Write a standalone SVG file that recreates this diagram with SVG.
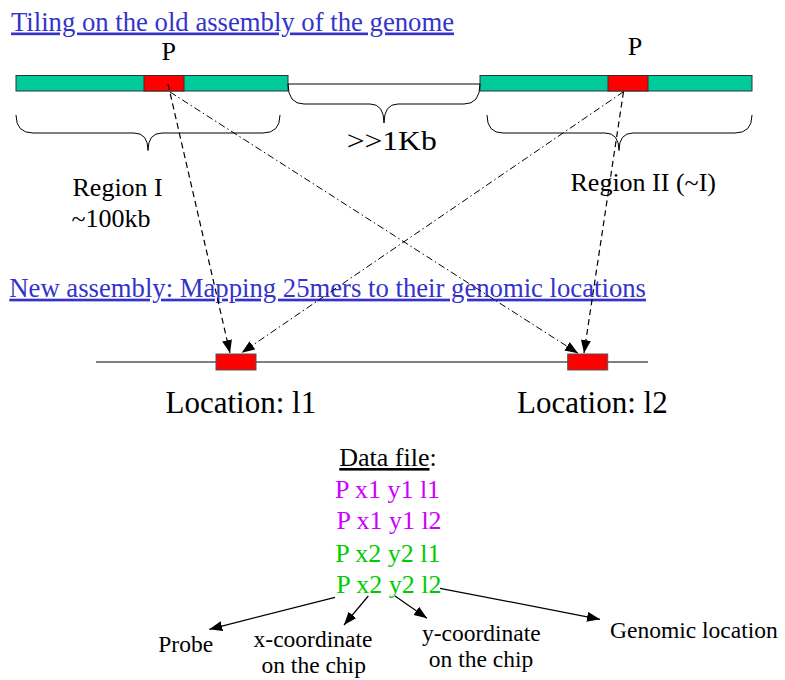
<svg xmlns="http://www.w3.org/2000/svg" width="785" height="680" viewBox="0 0 785 680">
<style>
text{font-family:"Liberation Serif","Times New Roman",serif;fill:#000}
.link{fill:#3333cc;font-size:26.7px;text-decoration:underline}
.bar{fill:#00cc99;stroke:#333;stroke-width:1}
.probe{fill:#ff0000;stroke:#333;stroke-width:1}
.loc{fill:#ff0000;stroke:#555;stroke-width:1}
.brace{fill:none;stroke:#000;stroke-width:1}
.dash{fill:none;stroke:#000;stroke-width:1.2;stroke-dasharray:6,4}
.dashdot{fill:none;stroke:#000;stroke-width:1;stroke-dasharray:7,3,1.5,3}
.solid{fill:none;stroke:#000;stroke-width:1.2}
.lbl{font-size:26px}
.small{font-size:23.5px}
.mag{fill:#cc00ff;font-size:26px}
.grn{fill:#00cc00;font-size:26px}
</style>
<defs>
<marker id="ah" markerUnits="userSpaceOnUse" markerWidth="14" markerHeight="12" refX="13" refY="5" orient="auto">
<path d="M0,0 L13,5 L0,10 z" fill="#000"/>
</marker>
</defs>

<g id="title-old">
<text class="link" x="11" y="30.5">Tiling on the old assembly of the genome</text>
</g>

<g id="region1">
<rect class="bar" x="16" y="75.5" width="272" height="15.5"/>
<rect class="probe" x="144" y="75.5" width="40" height="15.5"/>
<text class="lbl" x="168.7" y="59.5" text-anchor="middle" font-size="25">P</text>
<path class="brace" d="M16,115 Q16,133 33,133 H134 Q148,133 148,150.5 Q148,133 162,133 H263 Q280,133 280,115"/>
<text class="lbl" x="72.5" y="196">Region I</text>
<text class="lbl" x="71.5" y="226.5">~100kb</text>
</g>

<g id="region2">
<rect class="bar" x="480" y="75.5" width="272" height="15.5"/>
<rect class="probe" x="608" y="75.5" width="40" height="15.5"/>
<text class="lbl" x="635" y="55" text-anchor="middle" font-size="25">P</text>
<path class="brace" d="M487,115 Q487,133 503,133 H605 Q619,133 619,150.5 Q619,133 633,133 H735 Q752,133 752,115"/>
<text class="lbl" x="570.5" y="190.7">Region II (~I)</text>
</g>

<g id="gap">
<line class="brace" x1="288" y1="84" x2="480" y2="84"/>
<path class="brace" d="M288,84 Q288,104 304,104 H370 Q384,104 384,123 Q384,104 398,104 H464 Q480,104 480,84"/>
<text x="346.7" y="150" font-size="28" textLength="90" lengthAdjust="spacingAndGlyphs">&gt;&gt;1Kb</text>
</g>

<g id="title-new">
<text class="link" x="9.3" y="296.7">New assembly: Mapping 25mers to their genomic locations</text>
</g>

<g id="new-assembly">
<line x1="96" y1="362" x2="648" y2="362" stroke="#808080" stroke-width="2"/>
</g>
<g id="location1">
<rect class="loc" x="216" y="354" width="40" height="16"/>
<text x="165.5" y="413.3" font-size="31">Location: l1</text>
</g>
<g id="location2">
<rect class="loc" x="567.7" y="354" width="40" height="16"/>
<text x="517" y="413.3" font-size="31">Location: l2</text>
</g>

<g id="connectors">
<line class="dash" x1="168" y1="84" x2="230" y2="353" marker-end="url(#ah)"/>
<line class="dashdot" x1="170" y1="92" x2="578" y2="353.3" marker-end="url(#ah)"/>
<line class="dashdot" x1="623.5" y1="91.7" x2="241.7" y2="352.7" marker-end="url(#ah)"/>
<line class="dash" x1="623.5" y1="91.7" x2="584" y2="353" marker-end="url(#ah)"/>
<line class="solid" x1="335" y1="597.3" x2="209.3" y2="629.3" marker-end="url(#ah)"/>
<line class="solid" x1="368.3" y1="596" x2="344" y2="625" marker-end="url(#ah)"/>
<line class="solid" x1="395" y1="596" x2="427" y2="618.3" marker-end="url(#ah)"/>
<line class="solid" x1="440" y1="588.3" x2="600" y2="619.3" marker-end="url(#ah)"/>
</g>

<g id="datafile">
<text x="388" y="466" font-size="26" text-anchor="middle"><tspan text-decoration="underline">Data file</tspan>:</text>
<text class="mag" x="387.5" y="498.3" text-anchor="middle">P x1 y1 l1</text>
<text class="mag" x="389" y="529.3" text-anchor="middle">P x1 y1 l2</text>
<text class="grn" x="387.8" y="561.7" text-anchor="middle">P x2 y2 l1</text>
<text class="grn" x="388.8" y="593.3" text-anchor="middle">P x2 y2 l2</text>
</g>

<g id="label-probe">
<text class="small" x="158.3" y="651.7">Probe</text>
</g>
<g id="label-x">
<text class="small" x="313" y="646.7" text-anchor="middle">x-coordinate</text>
<text class="small" x="313.7" y="673.3" text-anchor="middle">on the chip</text>
</g>
<g id="label-y">
<text class="small" x="481.3" y="640.7" text-anchor="middle">y-coordinate</text>
<text class="small" x="481" y="667.3" text-anchor="middle">on the chip</text>
</g>
<g id="label-genomic">
<text class="small" x="610" y="638.3">Genomic location</text>
</g>
</svg>
